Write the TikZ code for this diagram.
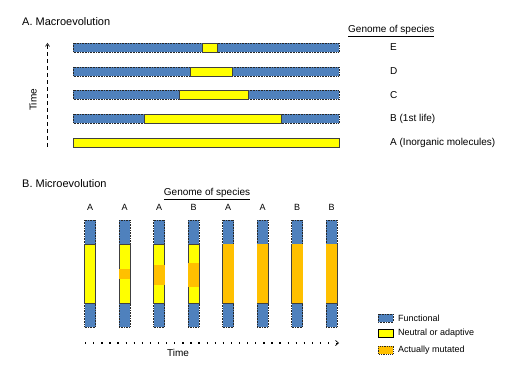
\documentclass[tikz,border=0pt]{standalone}
\usepackage{fontspec}
\setmainfont{Liberation Sans}
\usetikzlibrary{arrows.meta}
\definecolor{fblue}{RGB}{79,129,189}
\definecolor{nyellow}{RGB}{255,255,0}
\definecolor{morange}{RGB}{255,192,0}
\tikzset{
  bluebar/.style={fill=fblue, draw=black!85, line width=0.6pt, densely dotted},
  yelseg/.style={fill=nyellow, draw=black!75, line width=0.6pt},
  orgseg/.style={fill=morange, draw=none},
  title/.style={font=\fontsize{11}{13}\selectfont, anchor=west, inner sep=0pt},
  lbl/.style={font=\fontsize{10}{12}\selectfont, anchor=west, inner sep=0pt},
  collbl/.style={font=\fontsize{9}{11}\selectfont, inner sep=0pt},
  leglbl/.style={font=\fontsize{9}{11}\selectfont, anchor=west, inner sep=0pt},
  hdr/.style={font=\fontsize{10}{12}\selectfont, inner sep=0pt},
}
\begin{document}
\begin{tikzpicture}[x=1pt,y=-1pt]
\useasboundingbox (0,0) rectangle (521,374);
% ---------- Panel A ----------
\node[title] (tA) at (22,22) {A. Macroevolution};
\node[hdr, anchor=west] (gA) at (348,31) {\underline{Genome of species}};
% rows: y centre, yellow start, yellow end
\foreach \y/\a/\b/\n/\t in {47.5/202/217/rE/E, 71.5/190/232/rD/D, 95/179/248/rC/C, 118.5/144/281/rB/B (1st life)}{
  \fill[fblue] (73,\y-4.5) rectangle (339,\y+4.5);
  \draw[bluebar] (73,\y-4.5) rectangle (339,\y+4.5);
  \draw[yelseg] (\a,\y-4.5) rectangle (\b,\y+4.5);
  \node[lbl] (\n) at (390,\y) {\t};
}
\draw[yelseg] (73,138) rectangle (339,147);
\node[lbl] (rA) at (390,142.5) {A (Inorganic molecules)};
% time arrow
\coordinate (tb) at (47.5,147);
\coordinate (tt) at (47.5,43);
\draw[line width=0.6pt, dash pattern=on 4pt off 3pt, -{Straight Barb[length=3pt,width=4pt]}] (tb) -- (tt);
\node[font=\fontsize{10}{12}\selectfont, rotate=90, inner sep=0pt] (timeA) at (33,100) {Time};
% ---------- Panel B ----------
\node[title] (tB) at (22,184) {B. Microevolution};
\node[hdr] (gB) at (207,194) {\underline{Genome of species}};
\foreach \x/\l/\oa/\ob/\n in {90/A/0/0/c1, 124.5/A/269/279/c2, 159/A/265/285/c3, 193.5/B/263/287/c4, 228/A/244/303/c5, 262.5/A/244/303/c6, 297/B/244/303/c7, 331.5/B/244/303/c8}{
  \node[collbl] (\n) at (\x,207) {\l};
  \fill[fblue] (\x-5.5,220) rectangle (\x+5.5,327);
  \draw[bluebar] (\x-5.5,220) rectangle (\x+5.5,327);
  \draw[yelseg] (\x-5.5,244) rectangle (\x+5.5,303);
  \ifdim \oa pt>0pt
    \fill[orgseg] (\x-5.5,\oa) rectangle (\x+5.5,\ob);
  \fi
}
% time arrow B
\coordinate (bl) at (85,343);
\coordinate (br) at (339,343);
\draw[line width=1.3pt, dash pattern=on 1.3pt off 6.8pt] (bl) -- ([xshift=-3pt]br);
\draw[line width=0.7pt, -{Straight Barb[length=3pt,width=5pt]}] ([xshift=-3pt]br) -- (br);
\node[font=\fontsize{10}{12}\selectfont, inner sep=0pt] (timeB) at (178,353) {Time};
% legend
\draw[bluebar] (378,314) rectangle (393,322);
\node[leglbl] (l1) at (398,318) {Functional};
\draw[fill=nyellow, draw=black, line width=1pt] (378,329) rectangle (393,337);
\node[leglbl] (l2) at (398,333) {Neutral or adaptive};
\draw[fill=morange, draw=black!85, line width=0.8pt, densely dotted] (378,346) rectangle (393,354);
\node[leglbl] (l3) at (398,350) {Actually mutated};
\end{tikzpicture}
\end{document}
